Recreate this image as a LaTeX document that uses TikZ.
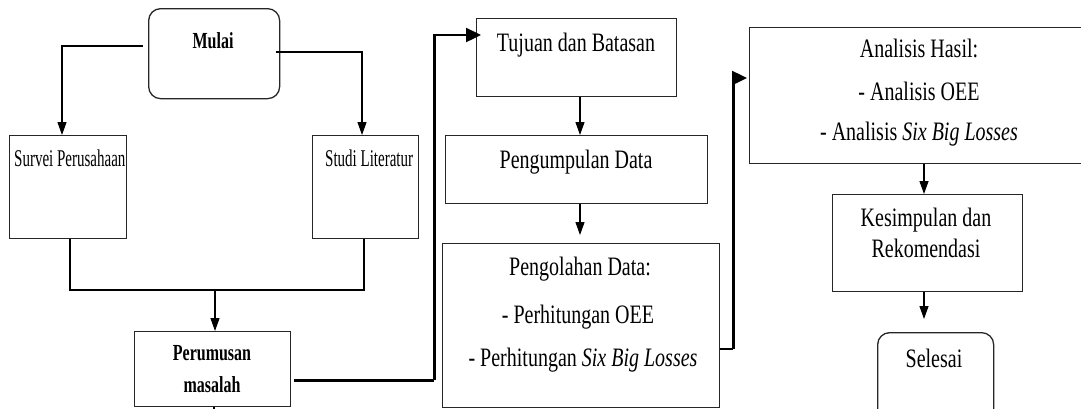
\documentclass[tikz,border=0pt]{standalone}
\usepackage{fontspec}
\setmainfont{Liberation Serif}
\usetikzlibrary{arrows.meta,calc}
\newcommand{\rs}[1]{\scalebox{1}[1.33]{#1}}
\newcommand{\ls}[1]{\scalebox{0.75}[1.2]{#1}}
\newcommand{\bs}[1]{\scalebox{0.8}[1.15]{\bfseries #1}}
\tikzset{
  boxshape/.style={draw=black!85, line width=1.3pt, inner sep=0pt, anchor=north west},
  roundshape/.style={boxshape, rounded corners=12pt},
  txt/.style={font=\fontsize{20}{24}\selectfont, inner sep=0pt, anchor=base},
  ltxt/.style={txt, anchor=base west},
  thinarrow/.style={line width=1.2pt, -{Triangle[length=13pt,width=9pt]}},
  thinline/.style={line width=1.2pt},
  thickarrow/.style={line width=2.4pt, -{Triangle[length=15pt,width=14pt]}},
  thickline/.style={line width=2.4pt}
}
\begin{document}
\begin{tikzpicture}[x=1pt,y=-1pt]
\useasboundingbox[fill=white] (0,0) rectangle (1081,408);

% boxes
\node[roundshape, minimum width=131pt, minimum height=90pt] (mulai) at (148,8) {};
\node[boxshape, minimum width=117pt, minimum height=103pt] (survei) at (9,135) {};
\node[boxshape, minimum width=106pt, minimum height=103pt] (studi) at (312,135) {};
\node[boxshape, minimum width=156pt, minimum height=75pt] (perumusan) at (134,331) {};
\node[boxshape, minimum width=200pt, minimum height=78pt] (tujuan) at (476,18) {};
\node[boxshape, minimum width=262pt, minimum height=68pt] (pengumpulan) at (445,135) {};
\node[boxshape, minimum width=277pt, minimum height=164pt] (pengolahan) at (442,243) {};
\node[boxshape, minimum width=345pt, minimum height=136pt] (analisis) at (749,27) {};
\node[boxshape, minimum width=190pt, minimum height=97pt] (kesimpulan) at (832,194) {};
\node[roundshape, minimum width=116pt, minimum height=90pt] (selesai) at (877,332) {};

% texts
\node[txt] (mulai-t) at (213,48) {\bs{Mulai}};
\node[ltxt] (survei-t) at (14,166) {\ls{Survei Perusahaan}};
\node[ltxt] (studi-t) at (325,166) {\ls{Studi Literatur}};
\node[txt] (perumusan-t1) at (212,360) {\bs{Perumusan}};
\node[txt] (perumusan-t2) at (212,392) {\bs{masalah}};
\node[txt] (tujuan-t) at (576,51) {\rs{Tujuan dan Batasan}};
\node[txt] (pengumpulan-t) at (576,168) {\rs{Pengumpulan Data}};
\node[txt] (pengolahan-t1) at (580,275) {\rs{Pengolahan Data:}};
\node[txt] (pengolahan-t2) at (578,323) {\rs{- Perhitungan OEE}};
\node[txt] (pengolahan-t3) at (583,366) {\rs{- Perhitungan \textit{Six Big Losses}}};
\node[txt] (analisis-t1) at (919,57) {\rs{Analisis Hasil:}};
\node[txt] (analisis-t2) at (919,100) {\rs{- Analisis OEE}};
\node[txt] (analisis-t3) at (919,140) {\rs{- Analisis \textit{Six Big Losses}}};
\node[txt] (kesimpulan-t1) at (926,226) {\rs{Kesimpulan dan}};
\node[txt] (kesimpulan-t2) at (926,257) {\rs{Rekomendasi}};
\node[txt] (selesai-t) at (934,367) {\rs{Selesai}};

% connectors
\coordinate (join) at (215,290);
\draw[thinarrow] ($(mulai.north west)+(-5,38)$) -| ($(survei.north west)+(53,0)$);
\draw[thinarrow] ($(mulai.north east)+(-4,44)$) -| ($(studi.north west)+(50,0)$);
\draw[thinline] ($(survei.south west)+(61,0)$) |- (join) -| ($(studi.south west)+(52,0)$);
\draw[thinarrow] (join) -- (join |- perumusan.north);
\draw[thinline] ($(perumusan.south west)+(80,0)$) -- ++(0,5);
\draw[thickline] ($(perumusan.south east)+(3,-27)$) -- ++(140,0) coordinate (bend1);
\draw[thickarrow] (bend1) |- ($(tujuan.north west)+(5,17)$);
\draw[thinarrow] ($(tujuan.south west)+(104,0)$) -- ($(pengumpulan.north west)+(135,0)$);
\draw[thinarrow] ($(pengumpulan.south west)+(135,0)$) -- ($(pengolahan.north west)+(138,-8)$);
\draw[thickline] ($(pengolahan.north east)+(0,106)$) -- ++(13,0) coordinate (bend2);
\draw[thickarrow] (bend2) |- ($(analisis.north west)+(-2,51)$);
\draw[thinarrow] ($(analisis.south west)+(175,0)$) -- ($(kesimpulan.north west)+(92,0)$);
\draw[thinarrow] ($(kesimpulan.south west)+(92,0)$) -- ($(selesai.north west)+(47,-13)$);
\end{tikzpicture}
\end{document}
